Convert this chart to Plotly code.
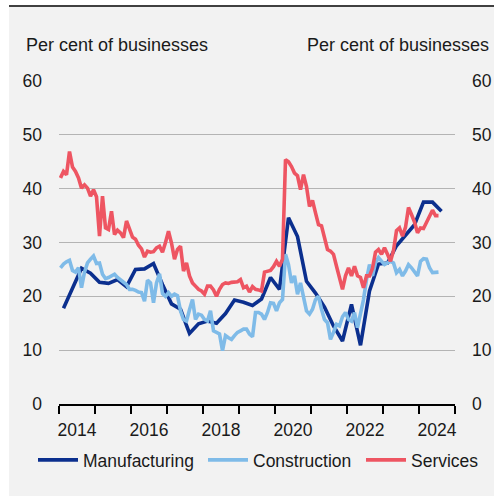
import plotly.graph_objects as go

# ---- data ----
start_year = 2014
manufacturing_q = [17.8, 21.5, 25.2, 24.3, 22.6, 22.4, 23.1, 21.8, 25.0, 25.1, 26.1,
                   22.2, 18.6, 17.6, 13.1, 14.9, 15.4, 15.0, 16.8, 19.3, 18.9, 18.3,
                   19.5, 23.5, 21.3, 34.6, 31.1, 22.8, 20.6, 18.0, 14.5, 11.7, 18.5,
                   10.9, 21.0, 26.0, 26.2, 29.4, 31.3, 33.3, 37.5, 37.5, 35.8]

construction_m = [25.3, 26.0, 26.4, 26.7, 24.8, 24.5, 25.3, 21.6, 24.5, 26.2, 26.9, 27.5,
                  26.1, 26.2, 24.1, 23.3, 23.5, 23.8, 24.1, 23.5, 23.1, 22.6, 22.2, 21.3,
                  21.3, 21.1, 20.8, 20.7, 19.1, 23.0, 22.5, 18.8, 22.5, 24.2, 20.5, 20.0,
                  20.7, 20.0, 20.4, 20.1, 17.3, 15.7, 15.4, 17.5, 19.4, 15.7, 16.7, 16.5,
                  15.7, 15.4, 17.3, 13.6, 13.3, 13.0, 9.9, 12.7, 12.3, 12.0, 12.7, 13.3,
                  13.6, 13.9, 13.9, 13.0, 12.5, 17.0, 17.0, 16.7, 15.7, 17.0, 18.8, 18.7,
                  17.3, 18.8, 19.4, 27.8, 25.9, 22.5, 23.8, 20.4, 22.5, 19.8, 17.3, 16.7,
                  17.6, 19.4, 20.0, 17.6, 15.7, 15.1, 12.0, 13.3, 14.8, 14.5, 16.2, 17.0,
                  15.7, 15.4, 17.0, 14.2, 17.0, 19.4, 23.1, 25.9, 23.8, 26.2, 27.2, 26.5,
                  25.9, 26.2, 26.5, 26.2, 24.4, 25.0, 23.8, 24.7, 25.9, 25.3, 24.4, 23.8,
                  26.5, 27.0, 26.9, 25.3, 24.4, 24.5, 24.5]

services_m = [42.0, 43.2, 42.6, 46.9, 44.0, 43.2, 42.0, 40.1, 40.7, 40.1, 38.6, 39.8,
              38.5, 31.2, 38.6, 32.7, 32.4, 35.8, 31.5, 32.3, 31.8, 30.9, 34.0, 32.4,
              31.0, 30.6, 29.5, 28.8, 27.3, 28.4, 28.2, 28.3, 29.0, 29.3, 28.2, 30.0,
              32.1, 29.9, 26.9, 28.7, 29.3, 24.7, 26.2, 23.8, 22.5, 21.9, 21.3, 21.0,
              20.4, 21.9, 21.9, 21.2, 20.0, 21.3, 22.2, 22.5, 22.4, 22.6, 22.7, 22.7,
              23.1, 21.6, 21.9, 20.8, 21.8, 21.3, 21.2, 21.0, 24.5, 24.7, 24.8, 25.5,
              26.5, 25.6, 26.9, 45.4, 45.0, 44.1, 42.9, 42.4, 39.8, 42.6, 40.4, 36.7,
              37.8, 35.5, 33.3, 33.1, 30.6, 28.7, 28.4, 27.8, 25.6, 23.1, 21.3, 23.8,
              25.3, 23.8, 25.6, 23.8, 23.5, 21.6, 23.8, 23.8, 25.2, 28.2, 28.7, 27.8,
              29.0, 27.8, 26.5, 28.5, 32.2, 32.7, 31.2, 32.8, 36.5, 35.2, 33.8, 31.8,
              32.7, 32.6, 33.8, 34.8, 36.0, 35.0, 35.0]

year_ticks = list(range(2014, 2026))
label_years = [2014, 2016, 2018, 2020, 2022, 2024]
y_ticks = [0, 10, 20, 30, 40, 50, 60]

x_q = [start_year + q / 4 + 0.125 for q in range(len(manufacturing_q))]
x_c = [start_year + (m + 0.5) / 12 for m in range(len(construction_m))]
x_s = [start_year + (m + 0.5) / 12 for m in range(len(services_m))]

C_MAN = "#0b2f8e"
C_CON = "#7fbbe8"
C_SER = "#ee5562"
FONT = "Liberation Sans, Arial, sans-serif"
FS = 17.5

fig = go.Figure()
fig.add_trace(go.Scatter(x=x_q, y=manufacturing_q, mode="lines", name="Manufacturing",
                         line=dict(color=C_MAN, width=3.6), legendwidth=115))
fig.add_trace(go.Scatter(x=x_c, y=construction_m, mode="lines", name="Construction",
                         line=dict(color=C_CON, width=3.6), legendwidth=103))
fig.add_trace(go.Scatter(x=x_s, y=services_m, mode="lines", name="Services",
                         line=dict(color=C_SER, width=3.6), yaxis="y2", legendwidth=72))

# margins (px): plot area from x=59..455, y=81..404
L, R, T, B = 59, 39, 81, 92
W, H = 494, 496
pw, ph = W - L - R, H - T - B

def px_x(p):
    return (p - L) / pw

def px_y(p):
    return (H - B - p) / ph

fig.update_layout(
    width=W, height=H,
    margin=dict(l=L, r=R, t=T, b=B, pad=0, autoexpand=False),
    paper_bgcolor="white",
    plot_bgcolor="rgba(0,0,0,0)",
    font=dict(family=FONT, size=FS, color="#1a1a1a"),
    showlegend=True,
    legend=dict(orientation="h", x=px_x(33), xanchor="left", y=px_y(460), yanchor="middle",
                font=dict(size=FS), bgcolor="rgba(0,0,0,0)", itemwidth=40,
                tracegroupgap=0, traceorder="normal", entrywidthmode="pixels"),
    xaxis=dict(range=[2014, 2025], showgrid=False, zeroline=False,
               showline=True, linecolor="black", linewidth=1.5,
               tickmode="array", tickvals=[y + 0.5 for y in label_years],
               ticktext=[str(y) for y in label_years], ticks="", ticklabelstandoff=9,
               minor=dict(tickmode="array", tickvals=year_ticks, ticks="outside",
                          ticklen=8, tickwidth=1.5, tickcolor="black", showgrid=False),
               fixedrange=True),
    yaxis=dict(range=[0, 60], tickmode="array", tickvals=y_ticks,
               showgrid=True, gridcolor="#b4b4b4", gridwidth=1, zeroline=False,
               showline=False, ticks="", ticklabelstandoff=16, fixedrange=True),
    yaxis2=dict(range=[0, 60], tickmode="array", tickvals=y_ticks, overlaying="y",
                side="right", showgrid=False, zeroline=False, showline=False,
                ticks="", ticklabelstandoff=16, fixedrange=True),
    shapes=[
        dict(type="rect", xref="paper", yref="paper", x0=px_x(9), x1=px_x(494),
             y0=px_y(496), y1=px_y(7), fillcolor="#f2f2f2", line=dict(width=0), layer="below"),
        dict(type="line", xref="paper", yref="paper", x0=px_x(9), x1=px_x(494),
             y0=px_y(6), y1=px_y(6), line=dict(color="black", width=1.5)),
    ],
    annotations=[
        dict(text="Per cent of businesses", xref="paper", yref="paper", x=px_x(24), y=px_y(45),
             xanchor="left", yanchor="middle", showarrow=False, font=dict(size=18)),
        dict(text="Per cent of businesses", xref="paper", yref="paper", x=px_x(491), y=px_y(45),
             xanchor="right", yanchor="middle", showarrow=False, font=dict(size=18)),
    ],
)

fig.write_html("out.html", config={"displayModeBar": False},
               post_script="document.body.style.margin='0';document.body.style.overflow='hidden';")
